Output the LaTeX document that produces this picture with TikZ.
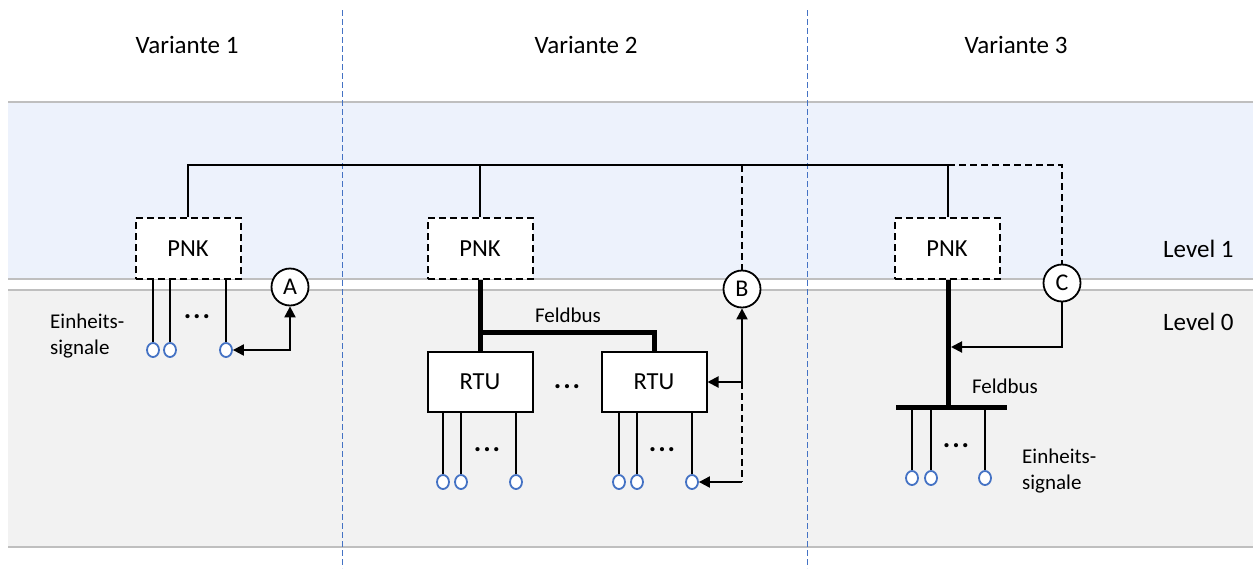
\documentclass[tikz,border=0pt]{standalone}
\usepackage{fontspec}
\setmainfont{Carlito}
\usetikzlibrary{arrows.meta,shapes.geometric}
\definecolor{bandblue}{RGB}{237,242,252}
\definecolor{bandgrey}{RGB}{242,242,242}
\definecolor{bandline}{RGB}{191,191,191}
\definecolor{sigblue}{RGB}{68,114,196}
\begin{document}
\begin{tikzpicture}[x=1pt,y=-1pt,
  wire/.style={line width=2pt},
  dwire/.style={line width=2pt, dash pattern=on 7pt off 4pt},
  bus/.style={line width=5pt},
  arr/.style={line width=2pt, -{Triangle[length=11pt,width=11pt]}},
  darr/.style={line width=2pt, {Triangle[length=11pt,width=11pt]}-{Triangle[length=11pt,width=11pt]}},
  pnkbox/.style={draw, line width=2pt, dash pattern=on 7pt off 4pt, fill=white,
    minimum width=105pt, minimum height=61pt, inner sep=0pt, font=\fontsize{24.5}{28}\selectfont},
  rtubox/.style={draw, line width=2pt, fill=white,
    minimum width=105pt, minimum height=60pt, inner sep=0pt, font=\fontsize{24.5}{28}\selectfont},
  letter/.style={circle, draw, line width=1.8pt, fill=white, minimum size=37pt, inner sep=0pt,
    font=\fontsize{24}{28}\selectfont},
  sig/.style={ellipse, draw=sigblue, line width=1.8pt, fill=white, minimum width=12pt,
    minimum height=14pt, inner sep=0pt},
  title/.style={font=\fontsize{25}{30}\selectfont},
  small/.style={font=\fontsize{21}{26}\selectfont},
  dots/.style={anchor=base, inner sep=0pt, font=\fontsize{28}{30}\selectfont\bfseries},
  divider/.style={draw=sigblue, line width=0.9pt, dash pattern=on 6pt off 3pt}
]
\useasboundingbox (0,0) rectangle (1253,568);
% bands
\fill[bandblue] (8,102) rectangle (1253,279);
\fill[bandgrey] (8,290) rectangle (1253,547);
\draw[bandline, line width=1.2pt] (8,102) -- (1253,102);
\draw[bandline, line width=1.2pt] (8,279) -- (1253,279);
\draw[bandline, line width=1.2pt] (8,290) -- (1253,290);
\draw[bandline, line width=1.2pt] (8,547) -- (1253,547);
% dividers
\draw[divider] (342,10) -- (342,568);
\draw[divider] (807,10) -- (807,568);
% titles
\node[title] (t1) at (187,45) {Variante 1};
\node[title] (t2) at (586,45) {Variante 2};
\node[title] (t3) at (1016,45) {Variante 3};
\node[title, anchor=west, inner sep=0pt] (l1) at (1163,249) {Level 1};
\node[title, anchor=west, inner sep=0pt] (l0) at (1163,322) {Level 0};

% top bus coordinates
\coordinate (ta) at (188,165);
\coordinate (tb) at (948,165);
\coordinate (tc) at (1062,165);

% ---------- Variante 1 ----------
\node[pnkbox] (pnk1) at (188,248.5) {PNK};
\node[letter] (A) at (290,287) {A};
\node[sig] (s11) at (153,350) {};
\node[sig] (s12) at (170,350) {};
\node[sig] (s13) at (226,350) {};
\draw[wire] (s11 |- pnk1.south) -- (s11.north);
\draw[wire] (s12 |- pnk1.south) -- (s12.north);
\draw[wire] (s13 |- pnk1.south) -- (s13.north);
\node[dots] (d1) at (197,318) {.\kern2pt.\kern2pt.};
\draw[darr] (s13.east) -| (A.south);
\node[small, align=left, anchor=west, inner sep=0pt] (e1) at (50,336) {Einheits-\\signale};

% ---------- Variante 2 ----------
\node[pnkbox] (pnk2) at (480,248.5) {PNK};
\node[letter] (B) at (742,289) {B};
\node[rtubox] (rtu1) at (480,382) {RTU};
\node[rtubox] (rtu2) at (654,382) {RTU};
\node[dots] (d2) at (567,388) {.\kern2pt.\kern2pt.};
\coordinate (fb2) at (480,332);
\draw[bus] (pnk2.south) -- (rtu1.north);
\draw[bus, line join=miter] (fb2) -| (rtu2.north);
\node[small] (fl2) at (568,315) {Feldbus};
\node[sig] (s21) at (443,482) {};
\node[sig] (s22) at (461,482) {};
\node[sig] (s23) at (516,482) {};
\node[sig] (s24) at (619,482) {};
\node[sig] (s25) at (637,482) {};
\node[sig] (s26) at (692,482) {};
\foreach \s/\r in {s21/rtu1,s22/rtu1,s23/rtu1,s24/rtu2,s25/rtu2,s26/rtu2}
  \draw[wire] (\s |- \r.south) -- (\s.north);
\node[dots] (d3) at (487,451) {.\kern2pt.\kern2pt.};
\node[dots] (d4) at (662,451) {.\kern2pt.\kern2pt.};
\coordinate (bj) at (742,382);
\coordinate (bk) at (742,482);
\draw[arr] (bj) -- (B.south);
\draw[arr] (bj) -- (rtu2.east);
\draw[dwire] (bj) -- (bk);
\draw[arr] (bk) -- (s26.east);

% ---------- Variante 3 ----------
\node[pnkbox] (pnk3) at (947,248.5) {PNK};
\node[letter] (C) at (1062,283) {C};
\coordinate (bus3) at (948,407);
\coordinate (bar3l) at (896,407);
\coordinate (bar3r) at (1007,407);
\draw[bus] (pnk3.south -| bus3) -- (bus3);
\draw[bus] (bar3l) -- (bar3r);
\node[sig] (s31) at (912,478) {};
\node[sig] (s32) at (931,478) {};
\node[sig] (s33) at (985,478) {};
\foreach \s in {s31,s32,s33}
  \draw[wire] (\s |- bus3) -- (\s.north);
\node[dots] (d5) at (956,447) {.\kern2pt.\kern2pt.};
\node[small] (fl3) at (1005,386) {Feldbus};
\node[small, align=left, anchor=west, inner sep=0pt] (e3) at (1022,471.5) {Einheits-\\signale};
\coordinate (ca) at (951,347);
\draw[arr] (C.south) |- (ca);

% ---------- top bus ----------
\draw[wire] (pnk1.north -| ta) -- (ta) -- (tb) -- (pnk3.north -| tb);
\draw[wire] (pnk2.north) -- (pnk2.north |- ta);
\draw[dwire] (tb) -- (tc) -- (C.north);
\draw[dwire] (B |- ta) -- (B.north);
\end{tikzpicture}
\end{document}
